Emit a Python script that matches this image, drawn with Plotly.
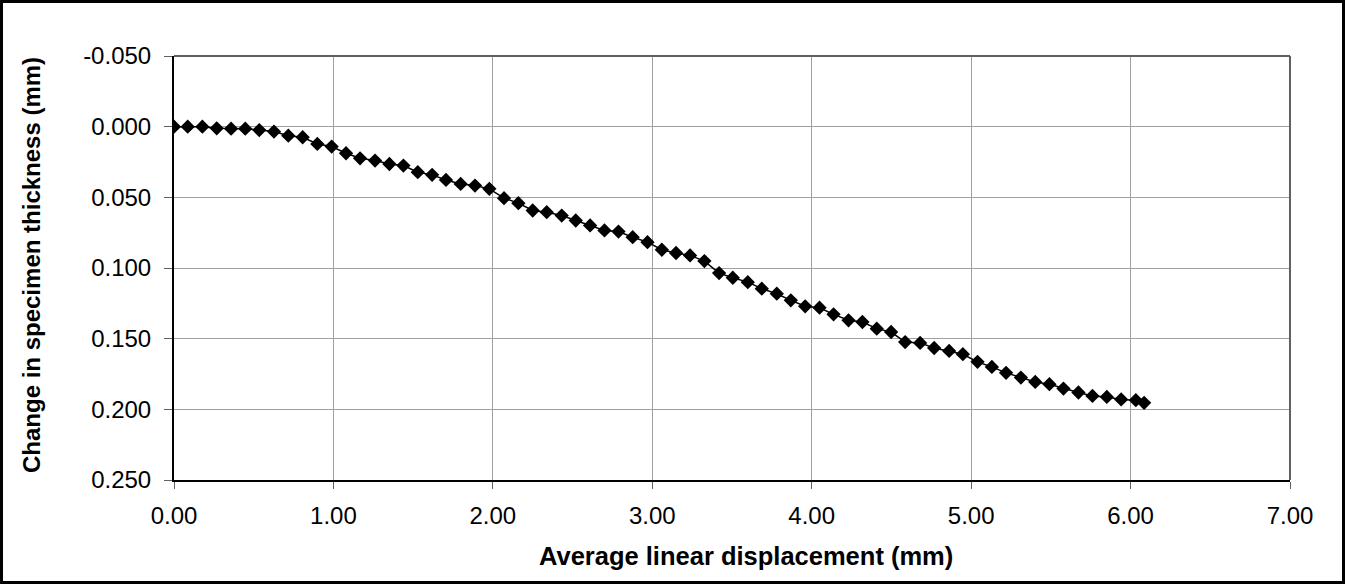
import plotly.graph_objects as go

# Data
displacement_mm = [
    0.000, 0.086, 0.178, 0.268, 0.358, 0.447, 0.535, 0.627, 0.717, 0.807,
    0.899, 0.989, 1.079, 1.167, 1.261, 1.351, 1.439, 1.529, 1.619, 1.706,
    1.798, 1.888, 1.978, 2.070, 2.160, 2.250, 2.338, 2.432, 2.520, 2.610,
    2.700, 2.788, 2.877, 2.970, 3.060, 3.149, 3.237, 3.327, 3.419, 3.505,
    3.599, 3.687, 3.781, 3.869, 3.959, 4.049, 4.137, 4.231, 4.318, 4.408,
    4.498, 4.586, 4.680, 4.768, 4.862, 4.948, 5.040, 5.130, 5.219, 5.312,
    5.402, 5.491, 5.579, 5.673, 5.761, 5.851, 5.941, 6.033, 6.085,
]
thickness_change_mm = [
    0.0000, 0.0000, 0.0000, 0.0012, 0.0014, 0.0014, 0.0024, 0.0035, 0.0064, 0.0075,
    0.0122, 0.0141, 0.0188, 0.0224, 0.0240, 0.0264, 0.0275, 0.0322, 0.0341, 0.0377,
    0.0405, 0.0417, 0.0440, 0.0506, 0.0541, 0.0593, 0.0605, 0.0629, 0.0664, 0.0699,
    0.0734, 0.0742, 0.0782, 0.0817, 0.0871, 0.0894, 0.0911, 0.0951, 0.1036, 0.1069,
    0.1100, 0.1146, 0.1182, 0.1229, 0.1271, 0.1281, 0.1328, 0.1370, 0.1382, 0.1429,
    0.1453, 0.1524, 0.1530, 0.1566, 0.1587, 0.1610, 0.1664, 0.1700, 0.1742, 0.1775,
    0.1806, 0.1822, 0.1853, 0.1881, 0.1905, 0.1912, 0.1930, 0.1935, 0.1954,
]

x_tick_vals = [0, 1, 2, 3, 4, 5, 6, 7]
x_tick_text = ["0.00", "1.00", "2.00", "3.00", "4.00", "5.00", "6.00", "7.00"]
y_tick_vals = [-0.05, 0.0, 0.05, 0.10, 0.15, 0.20, 0.25]
y_tick_text = ["-0.050", "0.000", "0.050", "0.100", "0.150", "0.200", "0.250"]

x_title = "Average linear displacement (mm)"
y_title = "Change in specimen thickness (mm)"

W, H = 1345, 584
ML, MR, MT, MB = 174, 55, 56, 104
PW, PH = W - ML - MR, H - MT - MB

FONT = "Liberation Sans, Arial, sans-serif"

fig = go.Figure()
fig.add_trace(go.Scatter(
    x=displacement_mm, y=thickness_change_mm,
    mode="lines+markers",
    line=dict(color="black", width=1.5),
    marker=dict(symbol="diamond", size=11, color="black"),
    showlegend=False,
))

fig.update_layout(
    width=W, height=H,
    margin=dict(l=ML, r=MR, t=MT, b=MB, pad=0),
    paper_bgcolor="white", plot_bgcolor="white",
    font=dict(family=FONT, size=24, color="black"),
    xaxis=dict(
        range=[0, 7], tickvals=x_tick_vals, ticktext=x_tick_text,
        showgrid=True, gridcolor="#a0a0a0", gridwidth=1,
        showline=True, linecolor="black", linewidth=2,
        ticks="outside", ticklen=7, tickcolor="#606060", tickwidth=1,
        zeroline=False, tickfont=dict(size=24), ticklabelstandoff=6,
    ),
    yaxis=dict(
        range=[0.25, -0.05], tickvals=y_tick_vals, ticktext=y_tick_text,
        showgrid=True, gridcolor="#a0a0a0", gridwidth=1,
        showline=True, linecolor="black", linewidth=2,
        ticks="outside", ticklen=8, tickcolor="#606060", tickwidth=1,
        zeroline=False, tickfont=dict(size=24), ticklabelstandoff=8,
    ),
    shapes=[
        # plot area top/right border (gray)
        dict(type="line", xref="paper", yref="paper", x0=0, x1=1, y0=1, y1=1,
             line=dict(color="#606060", width=2), layer="above"),
        dict(type="line", xref="paper", yref="paper", x0=1, x1=1, y0=0, y1=1,
             line=dict(color="#606060", width=2), layer="above"),
        # outer figure frame
        dict(type="rect", xref="paper", yref="paper",
             x0=(-ML + 1.5) / PW, x1=1 + (MR - 1.5) / PW,
             y0=(-MB + 1.5) / PH, y1=1 + (MT - 1.5) / PH,
             line=dict(color="black", width=3), layer="above"),
    ],
    annotations=[
        dict(text="<b>%s</b>" % x_title, xref="paper", yref="paper",
             x=(746 - ML) / PW, y=-(556 - MT - PH) / PH, showarrow=False,
             xanchor="center", yanchor="middle", font=dict(size=25.5)),
        dict(text="<b>%s</b>" % y_title, xref="paper", yref="paper",
             x=(31 - ML) / PW, y=(H - MB - 265) / PH, showarrow=False, textangle=-90,
             xanchor="center", yanchor="middle", font=dict(size=24)),
    ],
)

fig.write_html("out.html")
